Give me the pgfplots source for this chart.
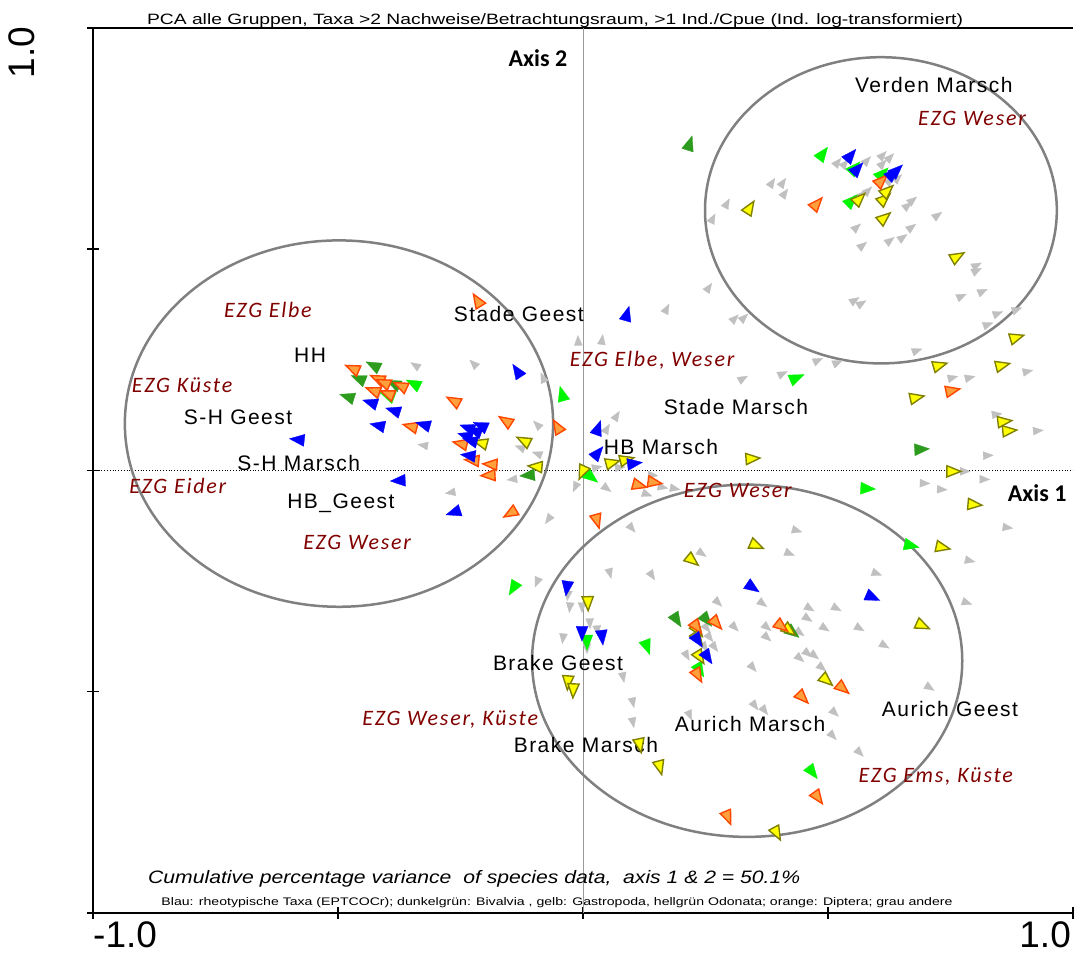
\documentclass[border=0pt]{standalone}
\usepackage{pgfplots}
\pgfplotsset{compat=1.18}
\usepackage{graphicx}
\usepackage{fontspec}
\setmainfont{Liberation Sans}
\newfontfamily\loc[LetterSpace=7]{Liberation Sans}
\newfontfamily\calfont{Carlito}
\newfontfamily\ezg[LetterSpace=8]{Carlito}
\definecolor{cblue}{RGB}{0,0,255}
\definecolor{dkgreen}{RGB}{45,155,30}
\definecolor{ltgreen}{RGB}{0,245,0}
\definecolor{yfill}{RGB}{255,255,0}
\definecolor{ydraw}{RGB}{128,128,0}
\definecolor{ofill}{RGB}{255,160,60}
\definecolor{odraw}{RGB}{255,70,0}
\definecolor{cgray}{RGB}{192,192,192}
\definecolor{ellgray}{RGB}{128,128,128}
\definecolor{ezgred}{RGB}{128,0,0}

\pgfdeclareplotmark{atri}{%
  \pgfpathmoveto{\pgfqpoint{\pgfplotmarksize}{0pt}}%
  \pgfpathlineto{\pgfqpoint{-\pgfplotmarksize}{0.8\pgfplotmarksize}}%
  \pgfpathlineto{\pgfqpoint{-\pgfplotmarksize}{-0.8\pgfplotmarksize}}%
  \pgfpathclose
  \pgfusepathqfillstroke
}
\pgfplotsset{
  arr/.style n args={2}{only marks, scatter, mark=atri,
    scatter/use mapped color={draw=#1, fill=#2},
    visualization depends on={atan2(\thisrow{y}*0.902,\thisrow{x}) \as \rot},
    scatter/@pre marker code/.append style={/tikz/rotate=\rot},
  },
}

\pgfplotstableread{
x y
0.520 0.697
0.535 0.694
0.580 0.701
0.612 0.713
0.627 0.708
0.612 0.694
0.627 0.656
0.643 0.661
0.582 0.633
0.565 0.622
0.673 0.611
0.663 0.599
0.724 0.577
0.559 0.550
0.671 0.550
0.653 0.527
0.627 0.520
0.571 0.509
0.408 0.651
0.412 0.627
0.386 0.651
0.294 0.604
0.265 0.570
0.257 0.414
0.171 0.366
0.310 0.344
0.329 0.346
0.555 0.385
0.569 0.378
0.480 0.249
0.520 0.244
0.682 0.271
0.327 0.208
0.408 0.219
0.804 0.464
0.804 0.452
0.773 0.394
0.816 0.405
0.847 0.355
0.886 0.364
0.827 0.330
0.908 0.224
0.755 0.210
0.790 0.210
0.845 0.127
0.929 0.090
0.827 0.034
0.780 -0.002
0.698 -0.029
0.733 -0.043
0.820 -0.020
0.867 -0.129
-0.224 0.242
-0.010 0.294
0.039 0.296
-0.082 0.210
-0.094 0.104
-0.129 0.052
-0.094 0.038
-0.145 -0.020
-0.271 -0.050
-0.016 -0.038
-0.071 -0.111
0.069 0.124
0.049 0.095
-0.343 0.238
-0.424 0.174
-0.327 0.057
0.049 -0.041
0.143 -0.011
0.163 -0.038
0.188 -0.041
0.131 -0.054
0.100 -0.131
0.437 -0.136
0.076 0.007
0.029 0.007
0.055 -0.233
0.141 -0.238
-0.031 -0.283
-0.027 -0.310
-0.002 -0.310
0.014 -0.346
0.029 -0.362
-0.041 -0.380
0.008 -0.403
0.082 -0.468
0.102 -0.525
0.102 -0.570
-0.094 -0.253
0.243 -0.188
0.422 -0.188
0.600 -0.233
0.790 -0.204
0.784 -0.299
0.276 -0.299
0.367 -0.301
0.463 -0.312
0.518 -0.312
0.459 -0.335
0.310 -0.355
0.376 -0.355
0.376 -0.378
0.494 -0.357
0.565 -0.357
0.616 -0.396
0.443 -0.367
0.347 -0.446
0.443 -0.425
0.459 -0.414
0.473 -0.419
0.488 -0.446
0.212 -0.419
0.708 -0.491
0.351 -0.532
0.371 -0.543
0.514 -0.548
0.218 -0.554
0.510 -0.600
0.565 -0.638
0.253 -0.357
0.259 -0.378
0.269 -0.400
0.249 -0.400
}\graydata

\pgfplotstableread{
x y
-0.435 0.154
-0.388 0.136
-0.420 0.102
-0.327 0.104
-0.584 0.070
-0.378 -0.023
-0.265 -0.095
-0.135 0.226
-0.237 0.097
-0.210 0.102
-0.241 0.079
-0.231 0.068
-0.222 0.090
-0.235 0.034
0.090 0.355
0.031 0.097
0.031 0.041
0.106 0.016
0.547 0.713
0.561 0.683
0.633 0.672
0.641 0.679
-0.033 -0.267
-0.002 -0.369
0.039 -0.378
0.347 -0.265
0.592 -0.287
0.235 -0.385
0.255 -0.423
}\bluedata

\pgfplotstableread{
x y
-0.429 0.238
-0.459 0.208
-0.482 0.167
-0.388 0.197
-0.114 -0.011
0.218 0.740
0.692 0.048
0.192 -0.339
0.253 -0.339
0.429 -0.367
}\dkgreendata

\pgfplotstableread{
x y
-0.347 0.197
-0.400 0.170
-0.043 0.174
0.490 0.717
0.555 0.685
0.612 0.672
0.549 0.611
0.437 0.210
0.018 -0.016
0.582 -0.041
0.671 -0.170
-0.143 -0.267
0.008 -0.389
0.131 -0.400
0.239 -0.452
0.469 -0.683
}\ltgreendata

\pgfplotstableread{
x y
-0.210 0.063
-0.122 0.068
-0.098 0.009
-0.002 -0.005
0.061 0.018
0.090 0.025
0.347 0.027
0.565 0.615
0.616 0.615
0.622 0.633
0.616 0.572
0.341 0.595
0.765 0.484
0.886 0.301
0.729 0.238
0.857 0.238
0.682 0.165
0.861 0.111
0.871 0.090
0.757 -0.002
0.800 -0.077
0.735 -0.174
0.355 -0.170
0.224 -0.204
0.235 -0.362
0.235 -0.380
0.239 -0.423
0.498 -0.475
0.694 -0.351
0.422 -0.362
0.157 -0.672
0.396 -0.821
0.116 -0.622
0.010 -0.301
-0.031 -0.480
-0.020 -0.498
}\yellowdata

\pgfplotstableread{
x y
-0.471 0.231
-0.420 0.208
-0.408 0.199
-0.373 0.192
-0.429 0.181
-0.400 0.174
-0.265 0.158
-0.353 0.100
-0.159 0.113
-0.053 0.100
-0.251 0.061
-0.227 0.023
-0.190 0.014
-0.194 -0.011
-0.149 -0.097
-0.216 0.385
0.029 -0.115
0.116 -0.034
0.147 -0.027
0.478 0.604
0.610 0.656
0.755 0.181
0.273 -0.346
0.406 -0.353
0.235 -0.464
0.531 -0.493
0.449 -0.514
0.480 -0.740
0.296 -0.785
0.233 -0.355
}\orangedata

\begin{document}
\begin{tikzpicture}
\begin{axis}[
  scale only axis, width=980pt, height=885pt,
  xmin=-1, xmax=1, ymin=-1, ymax=1,
  axis x line=box, axis y line=left,
  axis line style={line width=2pt, -},
  xtick={-1,-0.5,0,0.5,1}, ytick={-1,-0.5,0,0.5,1},
  xticklabels={}, yticklabels={},
  tick align=center, major tick length=12pt,
  tick style={line width=1.5pt, black},
  xtick pos=bottom, ytick pos=left,
  clip=false,
]
% reference lines
\draw[cgray!80!black, line width=0.8pt] (axis cs:0,-1) -- (axis cs:0,1);
\draw[black, line width=0.8pt, dotted] (axis cs:-1,0) -- (axis cs:1,0);

% ellipses
\draw[ellgray, line width=2.5pt] (axis cs:0.608,0.588) ellipse [x radius=0.359, y radius=0.346];
\draw[ellgray, line width=2.5pt] (axis cs:-0.498,0.106) ellipse [x radius=0.437, y radius=0.414];
\draw[ellgray, line width=2.5pt] (axis cs:0.335,-0.430) ellipse [x radius=0.439, y radius=0.398];

\addplot[arr={cgray}{cgray}, mark size=5pt, line width=0.3pt] table {\graydata};
\addplot[arr={dkgreen}{dkgreen}, mark size=7.5pt, line width=0.3pt] table {\dkgreendata};
\addplot[arr={ltgreen}{ltgreen}, mark size=7.5pt, line width=0.3pt] table {\ltgreendata};
\addplot[arr={ydraw}{yfill}, mark size=7pt, line width=1.4pt] table {\yellowdata};
\addplot[arr={odraw}{ofill}, mark size=7pt, line width=1.4pt] table {\orangedata};
\addplot[arr={cblue}{cblue}, mark size=7.5pt, line width=0.3pt] table {\bluedata};

% title and notes
\node[anchor=base, font=\fontsize{15}{18}\selectfont] at (axis cs:-0.057,1.009)
  {\resizebox{816pt}{\height}{PCA alle Gruppen, Taxa >2 Nachweise/Betrachtungsraum, >1 Ind./Cpue (Ind. log-transformiert)}};
\node[anchor=base, font=\fontsize{18}{20}\selectfont\itshape] at (axis cs:-0.222,-0.934)
  {\resizebox{652pt}{\height}{Cumulative percentage variance\ \ of species data,\ \ axis 1 \& 2 = 50.1\%}};
\node[anchor=base, font=\fontsize{11}{13}\selectfont] at (axis cs:-0.053,-0.984)
  {\resizebox{791pt}{\height}{Blau: rheotypische Taxa (EPTCOCr); dunkelgrün: Bivalvia , gelb: Gastropoda, hellgrün Odonata; orange: Diptera; grau andere}};

% tick labels
\node[anchor=base west, inner sep=1pt, font=\fontsize{37}{40}\selectfont] at (axis cs:-1.002,-1.078) {-1.0};
\node[anchor=base east, inner sep=1pt, font=\fontsize{37}{40}\selectfont] at (axis cs:0.998,-1.078) {1.0};
\node[rotate=90, font=\fontsize{37}{40}\selectfont] at (axis cs:-1.146,0.945) {1.0};

% axis names
\node[font=\calfont\bfseries\fontsize{24}{26}\selectfont] at (axis cs:-0.092,0.932) {Axis 2};
\node[font=\calfont\bfseries\fontsize{24}{26}\selectfont] at (axis cs:0.927,-0.052) {Axis 1};

% location labels
\begin{scope}[every node/.style={font=\loc\fontsize{21}{24}\selectfont}]
\node at (axis cs:0.716,0.871) {Verden Marsch};
\node at (axis cs:-0.131,0.353) {Stade Geest};
\node at (axis cs:-0.557,0.260) {HH};
\node at (axis cs:-0.704,0.120) {S-H Geest};
\node at (axis cs:-0.580,0.018) {S-H Marsch};
\node at (axis cs:-0.494,-0.075) {HB\_Geest};
\node at (axis cs:0.312,0.143) {Stade Marsch};
\node at (axis cs:0.159,0.052) {HB Marsch};
\node at (axis cs:-0.051,-0.434) {Brake Geest};
\node at (axis cs:0.006,-0.620) {Brake Marsch};
\node at (axis cs:0.341,-0.572) {Aurich Marsch};
\node at (axis cs:0.749,-0.538) {Aurich Geest};
\end{scope}

% EZG labels
\begin{scope}[every node/.style={font=\ezg\itshape\fontsize{22}{24}\selectfont, text=ezgred}]
\node at (axis cs:0.794,0.796) {EZG Weser};
\node at (axis cs:-0.643,0.362) {EZG Elbe};
\node at (axis cs:-0.818,0.192) {EZG Küste};
\node at (axis cs:-0.827,-0.036) {EZG Eider};
\node at (axis cs:-0.461,-0.163) {EZG Weser};
\node at (axis cs:0.141,0.249) {EZG Elbe, Weser};
\node at (axis cs:0.316,-0.045) {EZG Weser};
\node at (axis cs:-0.271,-0.563) {EZG Weser, Küste};
\node at (axis cs:0.720,-0.692) {EZG Ems, Küste};
\end{scope}
\end{axis}
\pgfresetboundingbox
\path[use as bounding box] ([xshift=-93pt,yshift=-43pt]current axis.south west) rectangle ([xshift=1pt,yshift=28pt]current axis.north east);
\end{tikzpicture}
\end{document}
